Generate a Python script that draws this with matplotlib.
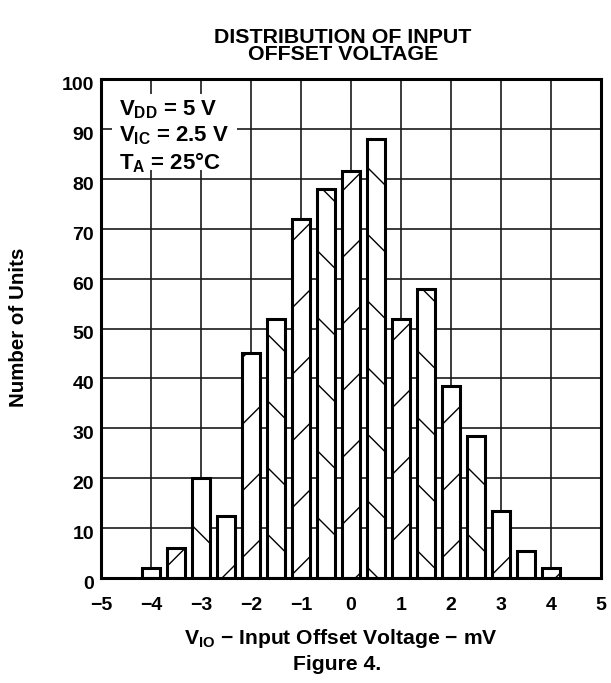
import matplotlib
matplotlib.use('Agg')
import matplotlib.pyplot as plt
import matplotlib.transforms as mtransforms
from matplotlib.patches import Rectangle

# Histogram of input offset voltage (mV) -> number of units
vio_mv = [-4.0, -3.5, -3.0, -2.5, -2.0, -1.5, -1.0, -0.5, 0.0,
          0.5, 1.0, 1.5, 2.0, 2.5, 3.0, 3.5, 4.0]
units = [2, 6, 20, 12.5, 45, 52, 72, 78, 81.5,
         88, 52, 58, 38.5, 28.5, 13.5, 5.5, 2]
hatches = ['\\', '/', '\\', '/', '/', '\\', '/', '\\', '/',
           '\\', '/', '\\', '/', '\\', '/', '\\', '/']

x_ticks = [-5, -4, -3, -2, -1, 0, 1, 2, 3, 4, 5]
y_ticks = [0, 10, 20, 30, 40, 50, 60, 70, 80, 90, 100]

plt.rcParams['font.family'] = ['Liberation Sans', 'DejaVu Sans']
plt.rcParams['font.weight'] = 'bold'
plt.rcParams['mathtext.fontset'] = 'custom'
plt.rcParams['mathtext.rm'] = 'Liberation Sans:bold'
plt.rcParams['mathtext.it'] = 'Liberation Sans:bold'
plt.rcParams['mathtext.bf'] = 'Liberation Sans:bold'
plt.rcParams['hatch.linewidth'] = 0.5
plt.rcParams['hatch.color'] = 'black'

# high dpi so the hatch spacing comes out wide like the original
dpi = 200
fig = plt.figure(figsize=(611 / dpi, 683 / dpi), dpi=dpi)
ax = fig.add_axes([101 / 611, 1 - 578 / 683, 500 / 611, 499 / 683])

bars = ax.bar(vio_mv, units, width=0.35, color='white', edgecolor='black',
              linewidth=1.1, zorder=3)
for b, h in zip(bars, hatches):
    b.set_hatch(h)

ax.set_xlim(-5, 5)
ax.set_ylim(0, 100)
ax.set_xticks(x_ticks)
ax.set_yticks(y_ticks)
ax.tick_params(length=0, labelsize=7.0)
ax.tick_params(axis='x', pad=7.0)
ax.tick_params(axis='y', pad=2.5)
shift = mtransforms.ScaledTranslation(0, -1.6 / 72, fig.dpi_scale_trans)
for lbl in ax.get_yticklabels():
    lbl.set_transform(lbl.get_transform() + shift)
for lbl in ax.get_xticklabels() + ax.get_yticklabels():
    lbl.set_fontweight('bold')

ax.set_axisbelow(True)
ax.grid(True, color='0.1', linewidth=0.6)
for s in ax.spines.values():
    s.set_linewidth(1.1)
    s.set_zorder(5)

# white patch behind the conditions block (hides the grid there)
ax.add_patch(Rectangle((0.022, 0.818), 0.25, 0.152, transform=ax.transAxes,
                       facecolor='white', edgecolor='none', zorder=2))
ax.text(0.036, 0.962,
        '$V_{DD}$ = 5 V\n$V_{IC}$ = 2.5 V\n$T_{A}$ = 25°C',
        transform=ax.transAxes, fontsize=8.0, fontweight='bold',
        va='top', ha='left', linespacing=1.2, zorder=4)

fig.text(343 / 611, 1 - 46 / 683, 'DISTRIBUTION OF INPUT\nOFFSET VOLTAGE',
         ha='center', va='center', fontsize=7.7, fontweight='bold',
         linespacing=0.86)
fig.text(19 / 611, 1 - 327 / 683, 'Number of Units', rotation=90,
         ha='center', va='center', fontsize=7.4, fontweight='bold')
fig.text(341 / 611, 1 - 638 / 683, '$V_{IO}$ \u2212 Input Offset Voltage \u2212 mV',
         ha='center', va='center', fontsize=7.6, fontweight='bold')
fig.text(337 / 611, 1 - 665 / 683, 'Figure 4.',
         ha='center', va='center', fontsize=7.6, fontweight='bold')

fig.savefig('out.png', dpi=dpi)
